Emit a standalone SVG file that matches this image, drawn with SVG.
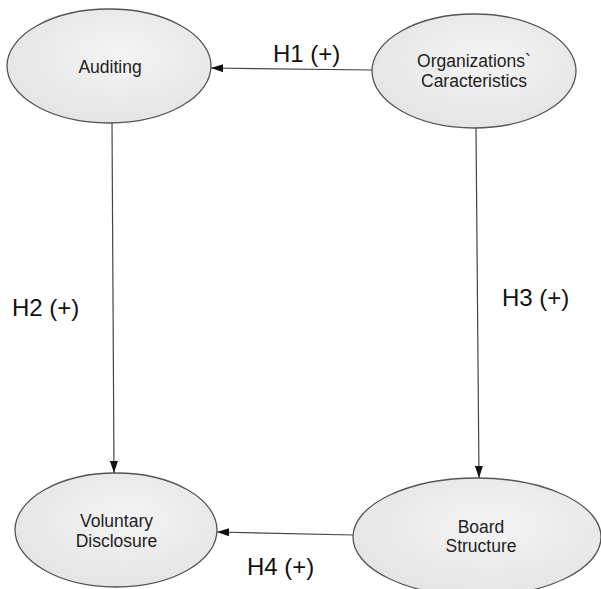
<svg xmlns="http://www.w3.org/2000/svg" width="601" height="589" viewBox="0 0 601 589">
<style>
.node{fill:url(#g);stroke:#555;stroke-width:1.3}
.nt{font-family:"Liberation Sans",Arial,sans-serif;font-size:17.5px;fill:#222;text-anchor:middle}
.lbl{font-family:"Liberation Sans",Arial,sans-serif;font-size:24px;fill:#111}
.edge{stroke:#444;stroke-width:1.2;fill:none;marker-end:url(#ah)}
</style>
<defs>
<radialGradient id="g" cx="0.55" cy="0.4" r="0.7">
<stop offset="0" stop-color="#f4f4f4"/>
<stop offset="1" stop-color="#e2e2e2"/>
</radialGradient>
<marker id="ah" viewBox="0 0 12 8" refX="12" refY="4" markerWidth="12" markerHeight="8" markerUnits="userSpaceOnUse" orient="auto">
<path d="M0,0 L12,4 L0,8 Z" fill="#111"/>
</marker>
</defs>
<rect width="601" height="589" fill="#fff"/>
<g id="connectors">
<line class="edge" x1="372" y1="70" x2="211" y2="68"/>
<line class="edge" x1="112" y1="123" x2="114" y2="473"/>
<line class="edge" x1="476" y1="128" x2="479" y2="478"/>
<line class="edge" x1="353" y1="535" x2="217" y2="532"/>
</g>
<g id="auditing">
<ellipse class="node" cx="109" cy="66" rx="102" ry="57"/>
<text class="nt" x="110" y="73">Auditing</text>
</g>
<g id="organizations">
<ellipse class="node" cx="474" cy="71" rx="102" ry="57"/>
<text class="nt" x="474" y="67">Organizations`</text>
<text class="nt" x="474" y="87">Caracteristics</text>
</g>
<g id="voluntary">
<ellipse class="node" cx="116" cy="530" rx="101" ry="57"/>
<text class="nt" x="116.5" y="527">Voluntary</text>
<text class="nt" x="116.5" y="547">Disclosure</text>
</g>
<g id="board">
<ellipse class="node" cx="477" cy="537" rx="124" ry="59"/>
<text class="nt" x="481" y="533">Board</text>
<text class="nt" x="481" y="552">Structure</text>
</g>
<g id="labels">
<text class="lbl" x="273" y="62">H1 (+)</text>
<text class="lbl" x="12" y="316">H2 (+)</text>
<text class="lbl" x="502" y="306">H3 (+)</text>
<text class="lbl" x="247" y="575">H4 (+)</text>
</g>
</svg>
